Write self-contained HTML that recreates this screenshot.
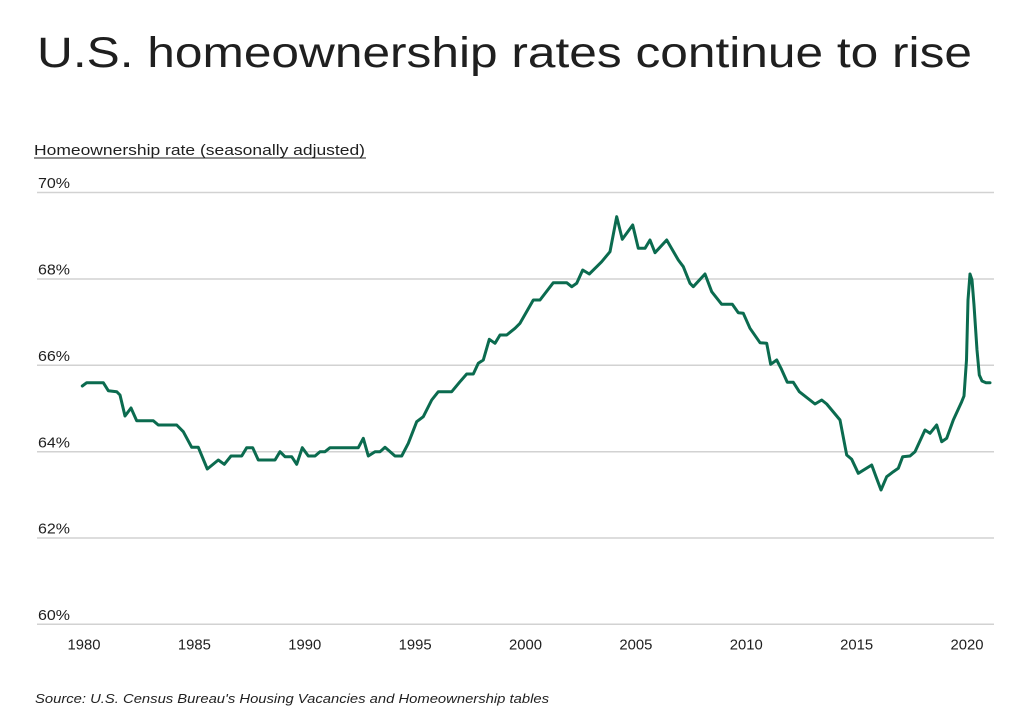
<!DOCTYPE html>
<html>
<head>
<meta charset="utf-8">
<style>
  html, body { margin: 0; padding: 0; background: #ffffff; }
  body { width: 1024px; height: 715px; overflow: hidden; }
  svg { display: block; }
  text { font-family: "Liberation Sans", sans-serif; fill: #1f1f1f; }
</style>
</head>
<body>
<svg width="1024" height="715" viewBox="0 0 1024 715" xmlns="http://www.w3.org/2000/svg">
  <rect width="1024" height="715" fill="#ffffff"/>

  <!-- Title -->
  <text x="37" y="67" font-size="43" textLength="935" lengthAdjust="spacingAndGlyphs" fill="#111">U.S. homeownership rates continue to rise</text>

  <!-- Subtitle -->
  <text x="34" y="155" font-size="15" textLength="331" lengthAdjust="spacingAndGlyphs" fill="#222">Homeownership rate (seasonally adjusted)</text>
  <line x1="34" y1="158" x2="366" y2="158" stroke="#222" stroke-width="1"/>

  <!-- Gridlines -->
  <g stroke="#d2d2d2" stroke-width="1.5">
    <line x1="37" y1="192.5" x2="994" y2="192.5"/>
    <line x1="37" y1="279" x2="994" y2="279"/>
    <line x1="37" y1="365.3" x2="994" y2="365.3"/>
    <line x1="37" y1="451.7" x2="994" y2="451.7"/>
    <line x1="37" y1="538" x2="994" y2="538"/>
    <line x1="37" y1="624.3" x2="994" y2="624.3"/>
  </g>

  <!-- Y labels -->
  <g font-size="15" fill="#333">
    <text x="38" y="188" textLength="32" lengthAdjust="spacingAndGlyphs">70%</text>
    <text x="38" y="274.5" textLength="32" lengthAdjust="spacingAndGlyphs">68%</text>
    <text x="38" y="361" textLength="32" lengthAdjust="spacingAndGlyphs">66%</text>
    <text x="38" y="447.3" textLength="32" lengthAdjust="spacingAndGlyphs">64%</text>
    <text x="38" y="533.7" textLength="32" lengthAdjust="spacingAndGlyphs">62%</text>
    <text x="38" y="620" textLength="32" lengthAdjust="spacingAndGlyphs">60%</text>
  </g>

  <!-- X labels -->
  <g font-size="15" fill="#333" text-anchor="middle">
    <text x="84" y="649.5" textLength="33" lengthAdjust="spacingAndGlyphs">1980</text>
    <text x="194.4" y="649.5" textLength="33" lengthAdjust="spacingAndGlyphs">1985</text>
    <text x="304.8" y="649.5" textLength="33" lengthAdjust="spacingAndGlyphs">1990</text>
    <text x="415.1" y="649.5" textLength="33" lengthAdjust="spacingAndGlyphs">1995</text>
    <text x="525.5" y="649.5" textLength="33" lengthAdjust="spacingAndGlyphs">2000</text>
    <text x="635.9" y="649.5" textLength="33" lengthAdjust="spacingAndGlyphs">2005</text>
    <text x="746.3" y="649.5" textLength="33" lengthAdjust="spacingAndGlyphs">2010</text>
    <text x="856.6" y="649.5" textLength="33" lengthAdjust="spacingAndGlyphs">2015</text>
    <text x="967" y="649.5" textLength="33" lengthAdjust="spacingAndGlyphs">2020</text>
  </g>

  <!-- Series -->
  <polyline fill="none" stroke="#0b6b4f" stroke-width="3" stroke-linejoin="round" stroke-linecap="round"
    points="82.3,386 86.7,382.7 103.3,382.7 108.3,390.7 116.7,391.7 120,395 125,416 131,408 136.7,420.7 153.3,420.7 158.3,425 176.7,425 183.3,431.7 191.7,447.3 198.3,447.3 207.3,469 218.3,460 224.3,464.3 231,456 241.7,456 246.7,447.7 252.7,447.7 258.3,460 275,460 280,451.7 285,456.7 291.7,456.7 296.7,464.3 302.3,447.7 308.3,456 315,456 320,451.7 325,451.7 330,447.7 358.3,447.7 363.3,438.3 368.3,456 375,451.7 380,451.7 385,447.3 395,456 401.7,456 408.3,443.3 416.7,421.7 423.3,416.7 431.7,400 438.3,391.7 451.7,391.7 460,381.7 466.7,374 473.3,374 478.3,363.3 483.3,360 489.3,339.3 495,343.3 500,335 506.7,335 515,328.3 520,323.3 533.3,300 540,300 553.3,282.7 566.7,282.7 571.7,286.7 576.7,283.3 582.7,270 589.3,274 596.7,266.7 601.7,261.7 610,251.7 616.7,216.7 622.3,239.3 632.7,225 638.3,248.3 645,248.3 650,240 655,252.7 666.7,240 678.3,260 683.3,266.7 690,283.3 693.3,286.7 705,274 711.7,291.7 721.7,304.3 732.3,304.3 738.3,312.7 743.3,313.3 750,328.3 760,342.7 766.7,343.3 770.7,364.3 776.7,360 781,368.3 787.3,382.3 793.3,382.3 799.3,391.7 815,404 821.7,400 826.7,404 836.7,416 840,420 846.7,455 851.7,459.3 858.3,473.3 871.7,465 876,476.7 881,490 886.7,476.7 893.3,471.7 898.3,468.3 902.7,456.7 910,456 915,451.7 925,430 930,433.3 936.7,425 941.7,441.7 946.7,438.3 953.3,420 961.7,401.7 964,396 966.5,360 968,300 970,274 972,280 974,305 977,350 979.3,375 982,381 986,382.7 990,382.7"/>

  <!-- Source -->
  <text x="35" y="703" font-size="13" font-style="italic" textLength="514" lengthAdjust="spacingAndGlyphs" fill="#333">Source:  U.S. Census Bureau's Housing Vacancies and Homeownership tables</text>
</svg>
</body>
</html>
